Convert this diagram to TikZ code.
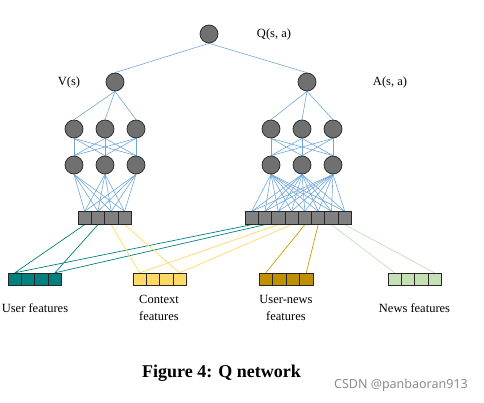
\documentclass[tikz,border=0pt]{standalone}
\usepackage{fontspec}
\setmainfont{Liberation Serif}
\newfontfamily\wmfont{Noto Sans}
\usetikzlibrary{backgrounds}
\definecolor{nodegray}{HTML}{707070}
\definecolor{cellgray}{HTML}{808080}
\definecolor{linkblue}{HTML}{6FA8DC}
\definecolor{teal1}{HTML}{00807F}
\definecolor{yell1}{HTML}{FFD966}
\definecolor{gold1}{HTML}{BF9000}
\definecolor{green1}{HTML}{C5E0B4}
\tikzset{
  neuron/.style={circle,draw=black!85,fill=nodegray,minimum size=18pt,inner sep=0pt,line width=0.7pt},
  cell/.style={draw=black!85,line width=0.8pt,minimum width=13.3pt,minimum height=12.5pt,inner sep=0pt},
  bl/.style={draw=linkblue,line width=0.6pt},
  lbl/.style={font=\fontsize{12.5}{16.5}\selectfont,align=center,inner sep=0pt},
}
\begin{document}
\begin{tikzpicture}[x=1pt,y=-1pt]
\useasboundingbox (0,0) rectangle (484,403);
% neurons
\node[neuron] (Q) at (209,34) {};
\node[neuron] (V) at (115,82) {};
\node[neuron] (A) at (307,82) {};
\foreach \i/\x in {1/74,2/105,3/136}{
  \node[neuron] (la\i) at (\x,129) {};
  \node[neuron] (lb\i) at (\x,165) {};
}
\foreach \i/\x in {1/271,2/302,3/333}{
  \node[neuron] (ra\i) at (\x,129) {};
  \node[neuron] (rb\i) at (\x,165) {};
}
% bars
\foreach \i in {1,...,4}{
  \node[cell,fill=cellgray] (L\i) at ({78+13.3*(\i-0.5)},218) {};
  \node[cell,fill=teal1] (U\i) at ({8+13.4*(\i-0.5)},279.5) {};
  \node[cell,fill=yell1] (C\i) at ({133+13.3*(\i-0.5)},279.5) {};
  \node[cell,fill=gold1] (N\i) at ({259+13.5*(\i-0.5)},279.5) {};
  \node[cell,fill=green1] (W\i) at ({388+13.3*(\i-0.5)},279.5) {};
}
\foreach \i in {1,...,8}{
  \node[cell,fill=cellgray] (R\i) at ({245+13.3*(\i-0.5)},218) {};
}
% labels
\node[lbl] (lq) at (274,34) {Q(s, a)};
\node[lbl] (lv) at (69,82) {V(s)};
\node[lbl] (la) at (390,82) {A(s, a)};
\node[lbl] (lu) at (35,308) {User features};
\node[lbl] (lc) at (159,308) {Context\\features};
\node[lbl] (ln) at (286,308) {User-news\\features};
\node[lbl] (lw) at (414.5,308) {News features};
\node[font=\fontsize{18}{20}\selectfont\bfseries,inner sep=0pt] (cap) at (221.5,373) {Figure 4: Q network};
\node[font=\wmfont\fontsize{12.5}{14}\selectfont,text=black!45,inner sep=0pt] (wm) at (401,385) {CSDN @panbaoran913};
% connectors
\begin{pgfonlayer}{background}
\draw[bl] (Q.south) -- (V.north);
\draw[bl] (Q.south) -- (A.north);
\foreach \i in {1,2,3}{
  \draw[bl] (V.south) -- (la\i.north);
  \draw[bl] (A.south) -- (ra\i.north);
  \foreach \j in {1,2,3}{
    \draw[bl] (la\i.south) -- (lb\j.north);
    \draw[bl] (ra\i.south) -- (rb\j.north);
  }
  \foreach \k in {1,...,4}{\draw[bl] (lb\i.south) -- (L\k.north);}
  \foreach \k in {1,...,8}{\draw[bl] (rb\i.south) -- (R\k.north);}
}
\draw[teal1,line width=0.7pt] (L1.south) -- (U1.north) (L2.south) -- (U4.north)
  (R1.south) -- (U1.north) (R2.south) -- (U4.north);
\draw[yell1,line width=0.7pt] (L3.south) -- (C1.north) (L4.south) -- (C4.north)
  (R3.south) -- (C1.north) (R4.south) -- (C4.north);
\draw[gold1!85!yellow,line width=0.7pt] (R5.south) -- (N1.north) (R6.south) -- (N4.north);
\draw[green1,line width=0.7pt] (R7.south) -- (W1.north) (R8.south) -- (W4.north);
\end{pgfonlayer}
\end{tikzpicture}
\end{document}
